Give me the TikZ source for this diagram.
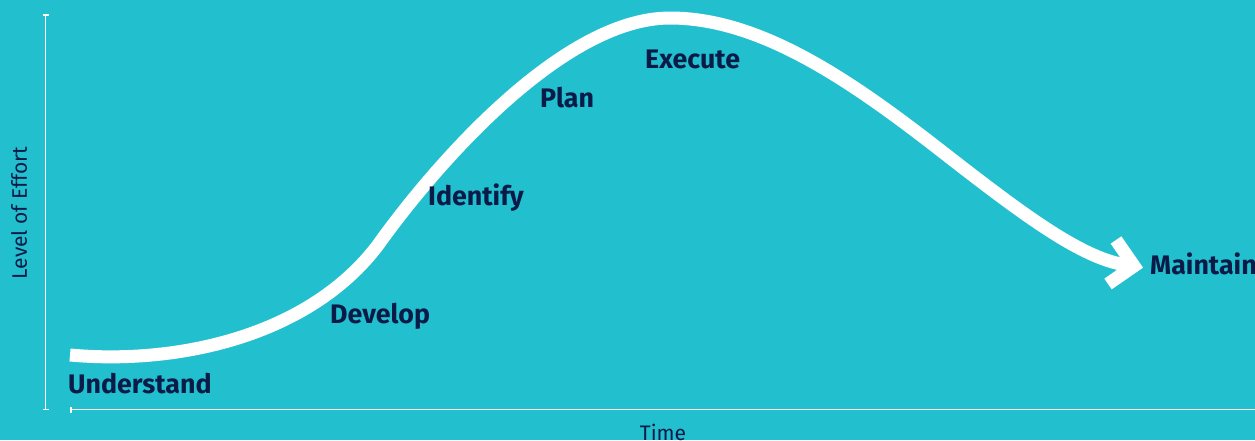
\documentclass[tikz,border=0pt]{standalone}
\usepackage{fontspec}
\setmainfont{Fira Sans}
\definecolor{bgc}{HTML}{22BFCE}
\definecolor{navy}{HTML}{0B1B48}
\tikzset{
  lbl/.style={anchor=base west, inner sep=0pt, text=navy, font=\fontsize{26.8}{30}\selectfont\bfseries},
  axis/.style={draw=white, line width=1.4pt},
  curve/.style={draw=white, line width=13pt}
}
\begin{document}
\begin{tikzpicture}[x=1pt,y=-1pt]
\fill[bgc] (0,0) rectangle (1255,440);
\useasboundingbox (0,0) rectangle (1255,440);
% axes
\coordinate (ytop) at (45.5,15);
\coordinate (ybot) at (45.5,409.5);
\coordinate (xl) at (71,409.5);
\coordinate (xr) at (1255,409.5);
\draw[axis] (ytop) -- (ybot);
\draw[axis] ([xshift=-3pt]ytop) -- ([xshift=3pt]ytop);
\draw[axis] ([xshift=-3pt]ybot) -- ([xshift=3pt]ybot);
\draw[axis] (xl) -- (xr);
\draw[axis] ([yshift=-3pt]xl) -- ([yshift=3pt]xl);
\node[anchor=base, inner sep=0pt, text=navy, font=\fontsize{21}{25}\selectfont] (time) at (663,440) {Time};
\node[anchor=base, rotate=90, inner sep=0pt, text=navy, font=\fontsize{21}{25}\selectfont] (loe) at (27,213) {Level of Effort};
% curve
\coordinate (c0) at (70,355);
\coordinate (c1) at (378,245);
\coordinate (c2) at (670,18);
\coordinate (c3) at (940,150);
\coordinate (c4) at (1131,265.5);
\draw[curve] (c0) .. controls (180,365) and (310,335) .. (c1)
  .. controls (430,172) and (560,18) .. (c2)
  .. controls (760,18) and (850,80) .. (c3)
  .. controls (1021,213) and (1085,262) .. (c4);
\coordinate (a1) at (1116,240);
\coordinate (tip) at (1134,266);
\coordinate (a2) at (1108,284);
\draw[curve, line join=miter] (a1) -- (tip) -- (a2);
% labels
\node[lbl] (u) at (68,393) {Understand};
\node[lbl] (d) at (330,323) {Develop};
\node[lbl] (i) at (428,205) {Identify};
\node[lbl] (p) at (540,107) {Plan};
\node[lbl] (e) at (645,68) {Execute};
\node[lbl] (m) at (1150,274) {Maintain};
\end{tikzpicture}
\end{document}
